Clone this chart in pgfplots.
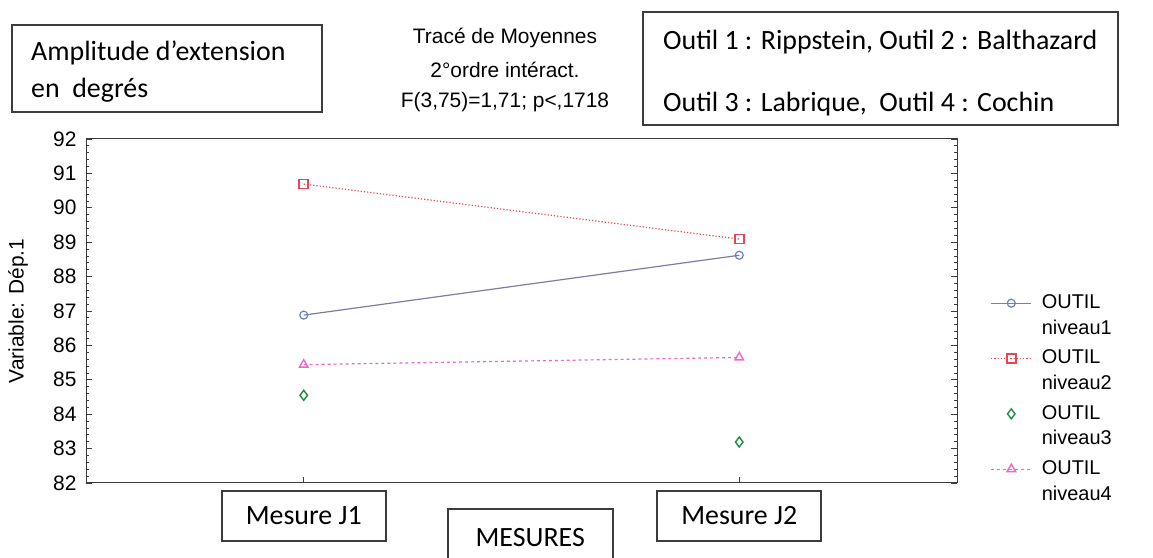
\documentclass[border=0pt]{standalone}
\usepackage{pgfplots}
\pgfplotsset{compat=1.18}
\usepackage{fontspec}
\setmainfont{Liberation Sans}
\newfontfamily\calfont{Carlito}
\definecolor{nivA}{RGB}{112,124,196}
\definecolor{nivAline}{RGB}{125,125,160}
\definecolor{nivB}{RGB}{228,70,82}
\definecolor{nivC}{RGB}{30,140,65}
\definecolor{nivD}{RGB}{232,105,200}
\definecolor{boxgray}{RGB}{60,60,60}
\begin{document}
\begin{tikzpicture}[x=1bp,y=1bp]
\useasboundingbox (0,0) rectangle (1153,558);
\begin{axis}[
  at={(86bp,75bp)}, anchor=south west,
  scale only axis, width=871bp, height=344bp,
  xmin=-0.5, xmax=1.5, ymin=82, ymax=92,
  axis line style={boxgray, line width=1bp},
  xtick={0,1}, xticklabels={Mesure J1, Mesure J2},
  xtick pos=bottom, xtick align=inside,
  ytick={82,83,...,92}, minor y tick num=4,
  ytick pos=both, ytick align=inside,
  yticklabel pos=left,
  major tick length=6bp, minor tick length=3bp,
  every tick/.style={boxgray, line width=0.8bp},
  /pgf/number format/assume math mode=true,
  yticklabel style={font=\fontsize{21}{23}\selectfont, xshift=-6bp},
  xticklabel style={draw=boxgray, line width=1.8bp, font=\calfont\fontsize{28}{32}\selectfont,
     minimum width=164bp, minimum height=50bp, anchor=north, yshift=-7bp},
  xlabel={MESURES},
  xlabel style={draw=boxgray, line width=1.8bp, font=\calfont\fontsize{28}{32}\selectfont,
     minimum width=165bp, minimum height=58bp, at={(axis description cs:0.51,0)}, anchor=north, yshift=-25bp},
  ylabel={Variable: Dép.1},
  ylabel style={font=\fontsize{21}{23}\selectfont, at={(axis description cs:-0.078,0.5)}, anchor=center},
  legend style={at={(rel axis cs:1.035,0.56)}, anchor=north west, draw=none, fill=none,
     font=\fontsize{20}{26}\selectfont, nodes={align=left, inner sep=2bp}, row sep=10bp,
     /tikz/every odd column/.append style={column sep=8bp}},
  legend cell align=left,
  legend image code/.code={\draw[mark repeat=2, mark phase=2, yshift=12bp, #1] plot coordinates {(0bp,0bp) (20bp,0bp) (40bp,0bp)};},
]
\addplot[nivAline, line width=1.2bp, mark=o, mark size=4bp, mark options={nivA, solid, line width=1.2bp}]
  coordinates {(0,86.88) (1,88.62)};
\addlegendentry{OUTIL\\niveau1}
\addplot[nivB, line width=1.2bp, dotted, mark=square, mark size=4.5bp, mark options={solid, line width=1.6bp}]
  coordinates {(0,90.69) (1,89.09)};
\addlegendentry{OUTIL\\niveau2}
\addplot[nivC, only marks, mark=diamond, mark size=5bp, mark options={solid, line width=1.4bp}]
  coordinates {(0,84.55) (1,83.19)};
\addlegendentry{OUTIL\\niveau3}
\addplot[nivD, line width=1.2bp, dashed, mark=triangle, mark size=5bp, mark options={solid, line width=1.4bp}]
  coordinates {(0,85.44) (1,85.65)};
\addlegendentry{OUTIL\\niveau4}
\end{axis}
% annotation boxes
\draw[boxgray, line width=1.8bp] (12,446) rectangle (322,533);
\node[anchor=base west, inner sep=0pt, font=\calfont\fontsize{28}{32}\selectfont] at (31,497) {Amplitude d’extension};
\node[anchor=base west, inner sep=0pt, font=\calfont\fontsize{28}{32}\selectfont] at (31,460) {en~~degrés};
\node[font=\fontsize{21}{23}\selectfont] at (505,520) {Tracé de Moyennes};
\node[font=\fontsize{21}{23}\selectfont] at (505,488) {2°ordre intéract.};
\node[font=\fontsize{21}{23}\selectfont] at (505,456) {F(3,75)=1,71; p<,1718};
\draw[boxgray, line width=1.8bp] (643,433) rectangle (1118,546);
\node[anchor=base west, inner sep=0pt, font=\calfont\fontsize{28}{32}\selectfont] at (663,508) {Outil 1 : Rippstein, Outil 2 : Balthazard};
\node[anchor=base west, inner sep=0pt, font=\calfont\fontsize{28}{32}\selectfont] at (663,446) {Outil 3 : Labrique,~~Outil 4 : Cochin};
\end{tikzpicture}
\end{document}
